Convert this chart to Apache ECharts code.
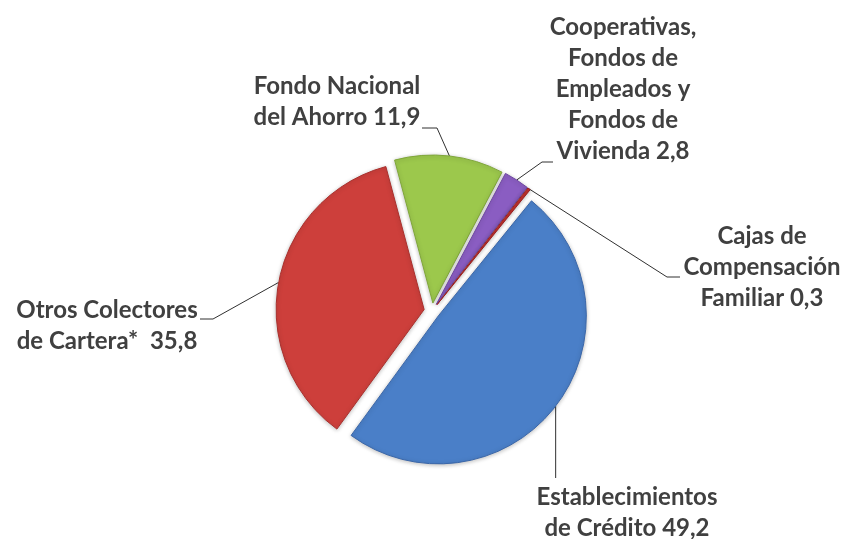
<!DOCTYPE html>
<html>
<head>
<meta charset="utf-8">
<script src="https://cdn.jsdelivr.net/npm/echarts@6/dist/echarts.min.js"></script>
<style>
  html, body { margin: 0; padding: 0; background: #fff; }
  #main { width: 845px; height: 539px; }
</style>
</head>
<body>
<div id="main"></div>
<script>
// cartera por tipo de entidad (%)
const names = [
  "Fondo Nacional\ndel Ahorro",
  "Cooperativas,\nFondos de\nEmpleados y\nFondos de\nVivienda",
  "Cajas de\nCompensación\nFamiliar",
  "Establecimientos\nde Crédito",
  "Otros Colectores\nde Cartera*"
];
const values = [11.9, 2.8, 0.3, 49.2, 35.8];
const valueSep = [" ", " ", " ", " ", "  "];

const colors = ["#9cc84c", "#8a5dc2", "#c0302c", "#4a7fc8", "#cd3f3b"];
const borders = ["#7fa63a", "#6d45a0", "#9a2020", "#3a66a8", "#a8302d"];

const pieCenter = [432, 311];
const explode = 8;

// label placement (text block centre, line bend and line end)
const labelBox = [
  { x: 337, y: 102, bend: [437, 128], end: [422, 128] },
  { x: 623, y: 89, bend: [542, 162], end: [553, 162] },
  { x: 762, y: 267, bend: [667, 277], end: [680, 277] },
  { x: 627, y: 513, bend: null, end: [554, 478] },
  { x: 107, y: 326, bend: [213, 319], end: [200, 319] }
];

const chart = echarts.init(document.getElementById("main"));

const option = {
  animation: false,
  series: [
    {
      type: "pie",
      center: pieCenter,
      radius: 148,
      startAngle: 105,
      clockwise: true,
      selectedMode: "multiple",
      selectedOffset: explode,
      avoidLabelOverlap: false,
      data: values.map(function (v, i) {
        return {
          name: names[i],
          value: v,
          selected: true,
          itemStyle: {
            color: colors[i],
            borderColor: borders[i],
            borderWidth: 1,
            shadowBlur: 4,
            shadowOffsetY: 1,
            shadowColor: "rgba(0,0,0,0.25)"
          }
        };
      }),
      label: {
        show: true,
        formatter: function (p) {
          return p.name + valueSep[p.dataIndex] + String(p.value).replace(".", ",");
        },
        fontFamily: "Lato",
        fontWeight: "bold",
        fontSize: 24,
        lineHeight: 31,
        color: "#404040"
      },
      labelLine: {
        show: true,
        lineStyle: { color: "#303030", width: 1 }
      },
      labelLayout: function (p) {
        const b = labelBox[p.dataIndex];
        const r = p.labelRect;
        const s = p.labelLinePoints[0];
        // label and line follow the exploded slice, so take that shift back out
        const vx = s[0] - pieCenter[0], vy = s[1] - pieCenter[1];
        const len = Math.sqrt(vx * vx + vy * vy) || 1;
        const ox = explode * vx / len, oy = explode * vy / len;
        const ax = p.align === "left" ? r.x : p.align === "right" ? r.x + r.width : r.x + r.width / 2;
        const ay = p.verticalAlign === "top" ? r.y : p.verticalAlign === "bottom" ? r.y + r.height : r.y + r.height / 2;
        const end = [b.end[0] - ox, b.end[1] - oy];
        const pts = b.bend
          ? [s, [b.bend[0] - ox, b.bend[1] - oy], end]
          : [s, [s[0], end[1]], [s[0], end[1]]];
        return {
          align: "center",
          verticalAlign: "middle",
          dx: b.x - ax - ox,
          dy: b.y - ay - oy,
          labelLinePoints: pts
        };
      },
      emphasis: { disabled: true }
    }
  ]
};

chart.setOption(option);
</script>
</body>
</html>
